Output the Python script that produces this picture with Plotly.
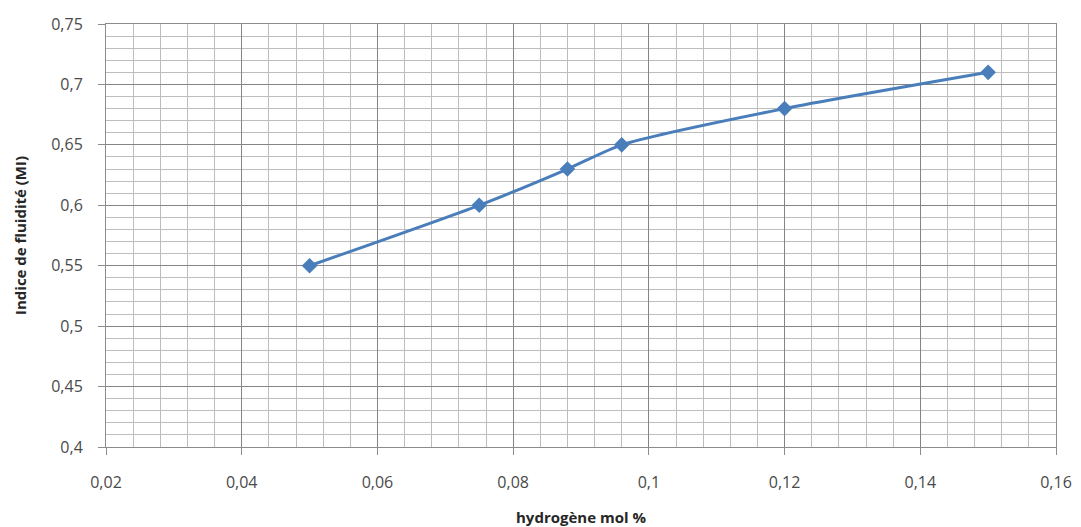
import plotly.graph_objects as go

# Melt index vs hydrogen content
hydrogen_mol_pct = [0.05, 0.075, 0.088, 0.096, 0.12, 0.15]
melt_index = [0.55, 0.60, 0.63, 0.65, 0.68, 0.71]

x_ticks = [0.02, 0.04, 0.06, 0.08, 0.10, 0.12, 0.14, 0.16]
x_tick_labels = ["0,02", "0,04", "0,06", "0,08", "0,1", "0,12", "0,14", "0,16"]
y_ticks = [0.40, 0.45, 0.50, 0.55, 0.60, 0.65, 0.70, 0.75]
y_tick_labels = ["0,4", "0,45", "0,5", "0,55", "0,6", "0,65", "0,7", "0,75"]

blue = "#4A7EBB"
font = "Open Sans, Liberation Sans, Arial, sans-serif"

fig = go.Figure()
fig.add_trace(go.Scatter(
    x=hydrogen_mol_pct,
    y=melt_index,
    mode="lines+markers",
    line=dict(color=blue, width=3, shape="spline", smoothing=0.6),
    marker=dict(symbol="diamond", size=12, color=blue),
    showlegend=False,
))

axis_common = dict(
    automargin=False,
    showline=True,
    linecolor="#8c8c8c",
    linewidth=1,
    mirror=True,
    ticks="outside",
    ticklen=7,
    tickcolor="#8c8c8c",
    showgrid=True,
    gridcolor="#858585",
    gridwidth=1,
    zeroline=False,
    tickfont=dict(family=font, size=16, color="#4a4a4a"),
)

fig.update_xaxes(
    range=[0.02, 0.16],
    tickvals=x_ticks,
    ticktext=x_tick_labels,
    ticklabelstandoff=14,
    minor=dict(dtick=0.004, tick0=0.02, showgrid=True, gridcolor="#bdbdbd", gridwidth=1),
    title=dict(text="<b>hydrogène mol %</b>", font=dict(family=font, size=15, color="#262626"), standoff=20),
    **axis_common,
)
fig.update_yaxes(
    range=[0.40, 0.75],
    tickvals=y_ticks,
    ticktext=y_tick_labels,
    ticklabelstandoff=12,
    minor=dict(dtick=0.01, tick0=0.40, showgrid=True, gridcolor="#bdbdbd", gridwidth=1),
    title=dict(text="<b>Indice de fluidité (MI)</b>", font=dict(family=font, size=15, color="#262626"), standoff=20),
    **axis_common,
)

fig.update_layout(
    width=1081,
    height=527,
    margin=dict(l=106, r=25, t=24, b=80),
    paper_bgcolor="white",
    plot_bgcolor="white",
)

fig.write_html("out.html")
